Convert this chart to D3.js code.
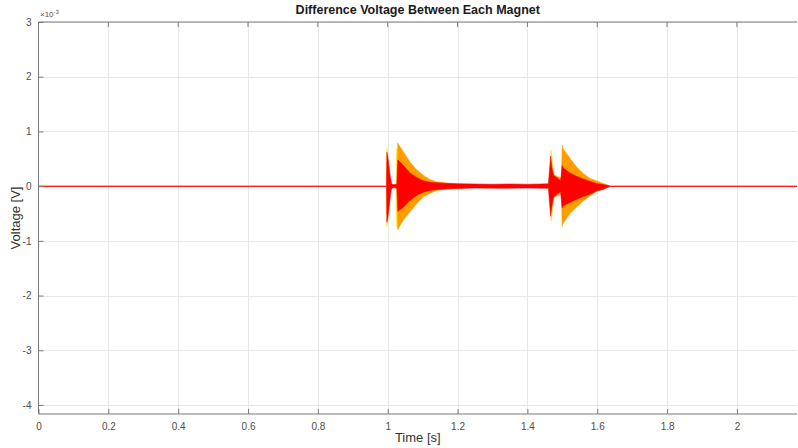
<!DOCTYPE html>
<html>
<head>
<meta charset="utf-8">
<script src="https://cdn.jsdelivr.net/npm/d3@7"></script>
<style>
  html, body { margin: 0; padding: 0; background: #fff; }
  svg { display: block; font-family: "Liberation Sans", Arial, Helvetica, sans-serif; }
</style>
</head>
<body>
<svg id="chart" width="798" height="448"></svg>
<script>
// ---- Data (values in units of 1e-3 V) ----
const xTicks = [0, 0.2, 0.4, 0.6, 0.8, 1, 1.2, 1.4, 1.6, 1.8, 2];
const yTicks = [-4, -3, -2, -1, 0, 1, 2, 3];

// Yellow series envelope
const yellowTime  = [0.9960, 0.9975, 0.9990, 1.0010, 1.0040, 1.0070, 1.0090, 1.0240, 1.0252, 1.0268, 1.0272, 1.4660, 1.4675, 1.4700, 1.4730, 1.4770, 1.4850, 1.4920, 1.4950];
const yellowUpper = [0, 0.70, 0.62, 0.45, 0.20, 0.05, 0, 0, 0.60, 0.70, 0, 0, 0.66, 0.55, 0.35, 0.20, 0.10, 0.05, 0];
const yellowLower = [0, -0.74, -0.70, -0.50, -0.25, -0.05, 0, 0, -0.65, -0.75, 0, 0, -0.64, -0.55, -0.35, -0.20, -0.10, -0.05, 0];

// Orange series envelope
const orangeTime  = [1.0262, 1.0285, 1.0445, 1.0637, 1.0829, 1.1018, 1.1210, 1.1400, 1.1780, 1.2000, 1.2350, 1.2400, 1.4700, 1.4720, 1.4850, 1.4960, 1.4975, 1.4995, 1.5027, 1.5218, 1.5410, 1.5600, 1.5790, 1.5980, 1.6170, 1.6315, 1.6360];
const orangeUpper = [0, 0.79, 0.63, 0.44, 0.30, 0.20, 0.12, 0.08, 0.05, 0.04, 0.03, 0, 0, 0.22, 0.18, 0.15, 0.15, 0.75, 0.68, 0.51, 0.35, 0.23, 0.14, 0.10, 0.05, 0.02, 0];
const orangeLower = [0, -0.80, -0.62, -0.47, -0.32, -0.20, -0.13, -0.08, -0.05, -0.04, -0.03, 0, 0, -0.22, -0.18, -0.15, -0.15, -0.74, -0.68, -0.50, -0.38, -0.27, -0.18, -0.10, -0.04, -0.02, 0];

// Red series envelope
const redTime  = [0, 0.9965, 0.9975, 1.0000, 1.0040, 1.0080, 1.0110, 1.0150, 1.0200, 1.0260, 1.0290, 1.0445, 1.0637, 1.0829, 1.1018, 1.1210, 1.1400, 1.1780, 1.2000, 1.2500, 1.3000, 1.3500, 1.4000, 1.4400, 1.4600, 1.4665, 1.4700, 1.4750, 1.4850, 1.4950, 1.4995, 1.5027, 1.5218, 1.5410, 1.5600, 1.5790, 1.5980, 1.6170, 1.6300, 1.6400, 2.1720];
const redUpper = [0, 0, 0.62, 0.55, 0.35, 0.15, 0.05, 0.03, 0.03, 0.04, 0.48, 0.38, 0.24, 0.16, 0.10, 0.07, 0.06, 0.05, 0.045, 0.04, 0.035, 0.04, 0.035, 0.04, 0.045, 0.55, 0.35, 0.20, 0.15, 0.10, 0.38, 0.33, 0.24, 0.18, 0.13, 0.09, 0.05, 0.03, 0.01, 0, 0];
const redLower = [0, 0, -0.66, -0.60, -0.40, -0.15, -0.05, -0.03, -0.03, -0.04, -0.46, -0.39, -0.26, -0.17, -0.11, -0.08, -0.06, -0.05, -0.045, -0.035, -0.04, -0.04, -0.035, -0.04, -0.04, -0.55, -0.38, -0.20, -0.15, -0.10, -0.40, -0.36, -0.30, -0.24, -0.19, -0.15, -0.09, -0.06, -0.02, 0, 0];

const series = [
  { name: "yellow", color: "#ffe31a", t: yellowTime, up: yellowUpper, lo: yellowLower },
  { name: "orange", color: "#ff9c00", t: orangeTime, up: orangeUpper, lo: orangeLower },
  { name: "red",    color: "#ff0000", t: redTime,    up: redUpper,    lo: redLower }
];

// ---- Layout ----
const svg = d3.select("#chart");
const L = 38.5, R = 797, T = 22, B = 414;
const x = d3.scaleLinear().domain([0, 2.172]).range([L, R]);
const y = d3.scaleLinear().domain([-4.165, 3]).range([B, T]);

// grid
const grid = svg.append("g");
grid.selectAll("line.gx").data(xTicks.filter(d => d > 0)).enter().append("line")
  .attr("x1", d => Math.round(x(d)) + 0.5).attr("x2", d => Math.round(x(d)) + 0.5)
  .attr("y1", T).attr("y2", B).attr("stroke", "#e8e8e8").attr("stroke-width", 1);
grid.selectAll("line.gy").data(yTicks).enter().append("line")
  .attr("y1", d => Math.round(y(d)) + 0.5).attr("y2", d => Math.round(y(d)) + 0.5)
  .attr("x1", L).attr("x2", R).attr("stroke", "#e8e8e8").attr("stroke-width", 1);

// data: center traces underneath, envelopes on top
const plot = svg.append("g");
const lineLayer = plot.append("g");
const areaLayer = plot.append("g");
series.forEach(s => {
  const pts = s.t.map((t, i) => ({ t, up: s.up[i], lo: s.lo[i] }));
  const mid = d3.line().x(d => x(d.t)).y(d => Math.round(y((d.up + d.lo) / 2)) + 0.5);
  lineLayer.append("path").datum(pts).attr("d", mid)
    .attr("fill", "none").attr("stroke", s.name === "red" ? "#ff4040" : s.color)
    .attr("stroke-width", 1).attr("shape-rendering", "crispEdges");
  const area = d3.area().x(d => x(d.t)).y0(d => y(d.lo)).y1(d => y(d.up));
  areaLayer.append("path").datum(pts).attr("d", area)
    .attr("fill", s.color).attr("stroke", s.color).attr("stroke-width", 0.5);
});

// axes
const axCol = "#7a7a7a";
const xAxis = d3.axisBottom(x).tickValues(xTicks).tickSize(-5).tickPadding(9)
  .tickFormat(d => d3.format("")(d));
const gx = svg.append("g").attr("transform", `translate(0,${B})`).call(xAxis);
const yAxis = d3.axisLeft(y).tickValues(yTicks).tickSize(-5).tickPadding(7)
  .tickFormat(d => d);
const gy = svg.append("g").attr("transform", `translate(${L},0)`).call(yAxis);
[gx, gy].forEach(g => {
  g.selectAll(".tick line").attr("stroke", axCol);
  g.selectAll(".tick text").attr("fill", "#4d4d4d").attr("font-size", 10)
    .attr("font-family", "Liberation Sans, Arial, sans-serif");
});
gx.select(".domain").remove();
gy.select(".domain").remove();
svg.append("line").attr("x1", L).attr("x2", R).attr("y1", B).attr("y2", B).attr("stroke", axCol);
svg.append("line").attr("x1", L).attr("x2", R).attr("y1", T).attr("y2", T).attr("stroke", axCol);
svg.append("line").attr("x1", L).attr("x2", L).attr("y1", T).attr("y2", B).attr("stroke", axCol);
// top ticks
svg.append("g").selectAll("line").data(xTicks).enter().append("line")
  .attr("x1", d => x(d)).attr("x2", d => x(d)).attr("y1", T).attr("y2", T + 5).attr("stroke", axCol);

// exponent label
const ex = svg.append("text").attr("x", 40).attr("y", 17).attr("font-size", 8).attr("fill", "#4d4d4d");
ex.append("tspan").text("\u00d710");
ex.append("tspan").attr("dy", -3).attr("font-size", 6).text("-3");

// title
svg.append("text").attr("x", (L + R) / 2).attr("y", 14).attr("text-anchor", "middle")
  .attr("font-size", 12.5).attr("font-weight", "bold").attr("fill", "#1a1a1a")
  .text("Difference Voltage Between Each Magnet");

// axis labels
svg.append("text").attr("x", (L + R) / 2).attr("y", 442).attr("text-anchor", "middle")
  .attr("font-size", 13).attr("fill", "#333").text("Time [s]");
svg.append("text").attr("transform", `translate(20,${(T + B) / 2}) rotate(-90)`)
  .attr("text-anchor", "middle").attr("font-size", 13).attr("fill", "#333").text("Voltage [V]");
</script>
</body>
</html>
